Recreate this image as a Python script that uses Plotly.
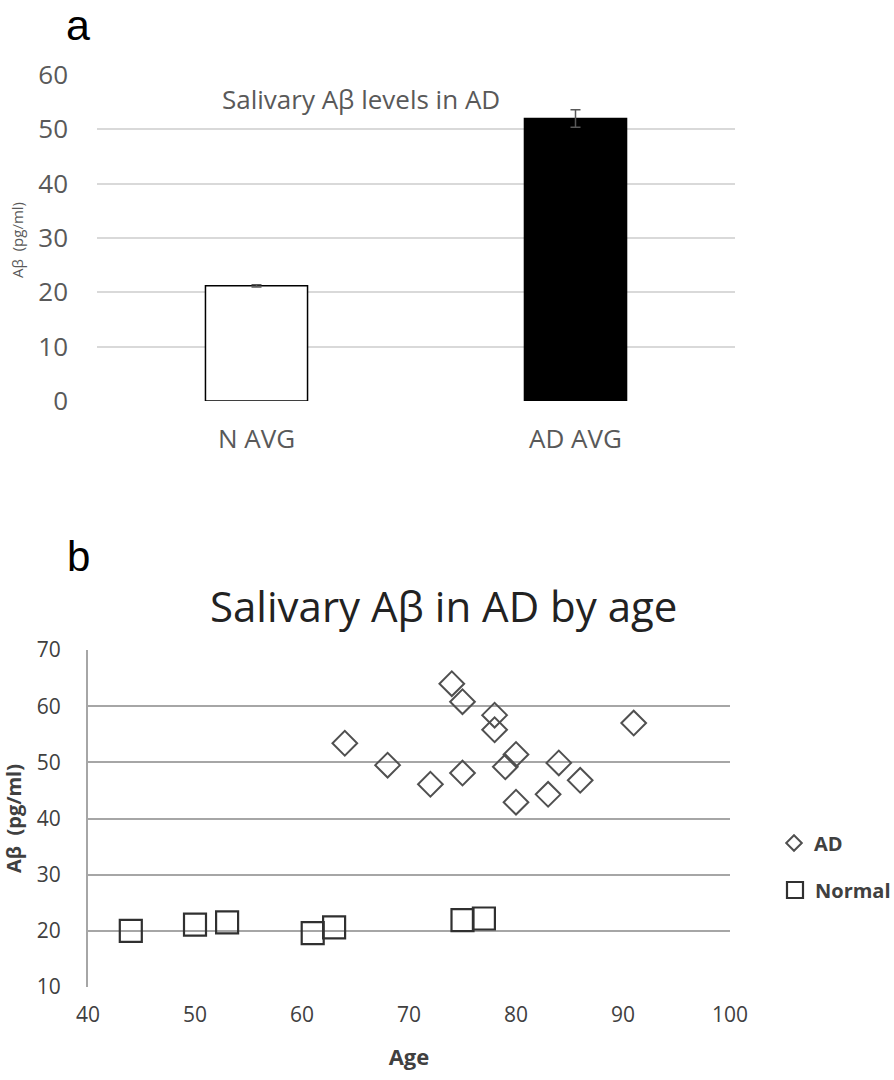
import plotly.graph_objects as go

# ---- Panel a data ----
bar_categories = ["N AVG", "AD AVG"]
bar_values = [21.2, 52.0]
bar_errors = [0.2, 1.6]

# ---- Panel b data ----
ad_age = [74, 75, 78, 78, 64, 68, 72, 75, 80, 79, 80, 83, 84, 86, 91]
ad_abeta = [64.0, 60.8, 58.4, 55.8, 53.4, 49.5, 46.1, 48.1, 51.4, 49.2, 42.9, 44.3, 49.9, 46.8, 57.0]
normal_age = [44, 50, 53, 61, 63, 75, 77]
normal_abeta = [20.0, 21.1, 21.5, 19.6, 20.6, 21.9, 22.2]

W, H = 894, 1080
def px(x):
    return x / W
def py(y):
    return 1 - y / H

FONT = "Open Sans, Lato, sans-serif"
ARIAL = "Liberation Sans, Arial, sans-serif"
NB = "\u00a0"

fig = go.Figure()

fig.add_trace(go.Bar(
    x=bar_categories, y=bar_values,
    marker=dict(color=["white", "black"], line=dict(color="black", width=1.5)),
    error_y=dict(type="data", array=bar_errors, color="#595959", thickness=1.5, width=5),
    xaxis="x", yaxis="y", showlegend=False,
))

fig.add_trace(go.Scatter(
    x=ad_age, y=ad_abeta, mode="markers", name="AD",
    marker=dict(symbol="diamond-open", size=19, color="#505050", line=dict(width=2, color="#505050")),
    xaxis="x2", yaxis="y2", legend="legend",
))
fig.add_trace(go.Scatter(
    x=normal_age, y=normal_abeta, mode="markers", name="Normal",
    marker=dict(symbol="square-open", size=22, color="#303030", line=dict(width=2.2, color="#303030")),
    xaxis="x2", yaxis="y2", legend="legend2",
))

fig.update_layout(
    width=W, height=H,
    margin=dict(l=0, r=0, t=0, b=0, autoexpand=False),
    paper_bgcolor="white", plot_bgcolor="white",
    bargap=0.68,
    font=dict(family=FONT),
    xaxis=dict(domain=[px(97), px(735)], anchor="y", showgrid=False, showline=False,
               ticks="", tickfont=dict(size=26, color="#595959"), ticklabelstandoff=20),
    yaxis=dict(domain=[py(401), py(75)], anchor="x", range=[0, 60], dtick=10,
               showgrid=True, gridcolor="#d9d9d9", gridwidth=1.5, zeroline=False,
               showline=False, ticks="", tickfont=dict(size=26, color="#595959"),
               ticklabelstandoff=28),
    xaxis2=dict(domain=[px(88), px(730)], anchor="y2", range=[40, 100], dtick=10,
                showgrid=False, showline=False, zeroline=False, ticks="",
                tickfont=dict(size=21, color="#404040"), ticklabelstandoff=13,
                title=dict(text="<b>Age</b>", font=dict(size=22, color="#404040"), standoff=22)),
    yaxis2=dict(domain=[py(987), py(650)], anchor="x2", range=[10, 70], dtick=10,
                showgrid=True, gridcolor="#a6a6a6", gridwidth=2, zeroline=False,
                showline=True, linecolor="#a6a6a6", linewidth=2, ticks="",
                tickfont=dict(size=21, color="#404040"), ticklabelstandoff=21,
                title=dict(text="<b>Aβ" + NB + NB + "(pg/ml)</b>", font=dict(size=20, color="#404040"),
                           standoff=15)),
    legend=dict(x=px(774), y=py(843), xanchor="left", yanchor="middle",
                font=dict(size=20, color="#404040", weight="bold"), itemsizing="constant",
                bgcolor="rgba(0,0,0,0)", itemwidth=30),
    legend2=dict(x=px(775), y=py(890), xanchor="left", yanchor="middle",
                 font=dict(size=20, color="#404040", weight="bold"), itemsizing="trace",
                 bgcolor="rgba(0,0,0,0)", itemwidth=30),
    annotations=[
        dict(text="a", x=px(78), y=1, xref="paper", yref="paper", showarrow=False,
             font=dict(size=43, color="black", family=ARIAL), xanchor="center", yanchor="top",
             yshift=1),
        dict(text="b", x=px(78), y=py(556), xref="paper", yref="paper", showarrow=False,
             font=dict(size=42, color="black", family=ARIAL), xanchor="center", yanchor="middle"),
        dict(text="Salivary Aβ levels in AD", x=px(361), y=py(99), xref="paper", yref="paper",
             showarrow=False, font=dict(size=26, color="#595959", family=FONT),
             xanchor="center", yanchor="middle"),
        dict(text="Aβ" + NB + NB + "(pg/ml)", x=px(17), y=py(240), xref="paper", yref="paper",
             showarrow=False, textangle=-90, font=dict(size=15, color="#595959", family=FONT),
             xanchor="center", yanchor="middle"),
        dict(text="Salivary Aβ in AD by age", x=px(443), y=py(605), xref="paper", yref="paper",
             showarrow=False, font=dict(size=42, color="#222222", family=FONT),
             xanchor="center", yanchor="middle"),
    ],
)

fig.write_html("out.html", config={"displayModeBar": False},
               post_script="document.body.style.margin='0';")
